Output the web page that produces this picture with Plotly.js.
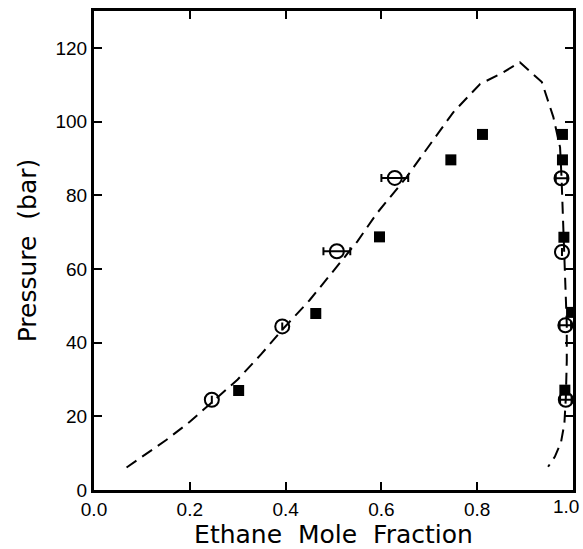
<!DOCTYPE html>
<html>
<head>
<meta charset="utf-8">
<script src="https://cdn.plot.ly/plotly-3.0.1.min.js"></script>
<style>html,body{margin:0;padding:0;background:#fff;}#chart{width:583px;height:549px;}</style>
</head>
<body>
<div id="chart"></div>
<script>
// Calculated phase envelope (dashed curve)
const curveX = [0.068, 0.10, 0.15, 0.20, 0.247, 0.30, 0.35, 0.393, 0.45, 0.50, 0.55, 0.59, 0.653, 0.70, 0.75, 0.806, 0.85, 0.889,
                0.935, 0.959, 0.973, 0.976, 0.979, 0.982, 0.985, 0.987, 0.987, 0.985, 0.982, 0.975, 0.962, 0.948];
const curveY = [6.1, 9.0, 13.5, 18.5, 24.0, 30.0, 37.0, 43.5, 51.5, 59.5, 67.5, 75.0, 85.0, 93.5, 102.5, 110.2, 113.0, 116.1,
                110.7, 101.2, 93.0, 85.0, 75.0, 65.0, 55.0, 45.0, 35.0, 25.0, 18.0, 13.0, 9.0, 6.3];

// Open circles (with x error bars)
const circX = [0.246, 0.393, 0.507, 0.628, 0.976, 0.977, 0.984, 0.985];
const circY = [24.5, 44.4, 64.8, 84.7, 84.6, 64.6, 44.7, 24.5];
const circErrX = [0, 0, 0.028, 0.028, 0.012, 0, 0.012, 0.012];

// Filled squares
const sqX = [0.302, 0.463, 0.596, 0.745, 0.811, 0.978, 0.978, 0.981, 0.997, 0.983];
const sqY = [27.0, 47.9, 68.7, 89.6, 96.5, 96.5, 89.6, 68.6, 48.2, 27.1];

const xTicks = [0.0, 0.2, 0.4, 0.6, 0.8, 1.0];
const yTicks = [0, 20, 40, 60, 80, 100, 120];

const traces = [
  {x: curveX, y: curveY, mode: 'lines', type: 'scatter',
   line: {color: '#000', width: 2, dash: '12px,7px'}, hoverinfo: 'none'},
  {x: sqX, y: sqY, mode: 'markers', type: 'scatter',
   marker: {symbol: 'square', size: 11, color: '#000'}},
  {x: circX, y: circY, mode: 'markers', type: 'scatter',
   error_x: {type: 'data', array: circErrX, visible: true, color: '#000', thickness: 2, width: 4},
   marker: {symbol: 'circle-open', size: 14, color: '#000', line: {width: 2, color: '#000'}}}
];

const tickFont = {family: 'Liberation Sans, Arial, sans-serif', size: 19, color: '#000'};
const axisCommon = {
  showline: true, linecolor: '#000', linewidth: 3, mirror: 'ticks',
  ticks: 'inside', ticklen: 8, tickwidth: 2, tickcolor: '#000',
  showgrid: false, zeroline: false,
  tickfont: tickFont
};

// last x tick label is placed as an annotation so it stays inside the page
const lastX = xTicks[xTicks.length - 1];
const xText = xTicks.map(v => v === lastX ? '' : v.toFixed(1));

const layout = {
  width: 583, height: 549,
  margin: {l: 94, r: 10, t: 11, b: 59},
  paper_bgcolor: '#fff', plot_bgcolor: '#fff',
  showlegend: false,
  xaxis: Object.assign({}, axisCommon, {
    range: [0, 1.0], tickvals: xTicks, ticktext: xText,
    title: {text: 'Ethane\u00a0 Mole\u00a0 Fraction', standoff: 4,
            font: {family: 'DejaVu Sans, sans-serif', size: 25, color: '#000'}}
  }),
  yaxis: Object.assign({}, axisCommon, {
    range: [0, 130], tickvals: yTicks, ticktext: yTicks.map(String),
    title: {text: 'Pressure\u00a0 (bar)', standoff: 12,
            font: {family: 'DejaVu Sans, sans-serif', size: 25, color: '#000'}}
  }),
  annotations: [{
    x: lastX, y: 0, xref: 'x', yref: 'y', text: lastX.toFixed(1), showarrow: false,
    xanchor: 'center', yanchor: 'top', xshift: -7, yshift: -4, font: tickFont
  }]
};

Plotly.newPlot('chart', traces, layout, {displayModeBar: false, staticPlot: true});
</script>
</body>
</html>
